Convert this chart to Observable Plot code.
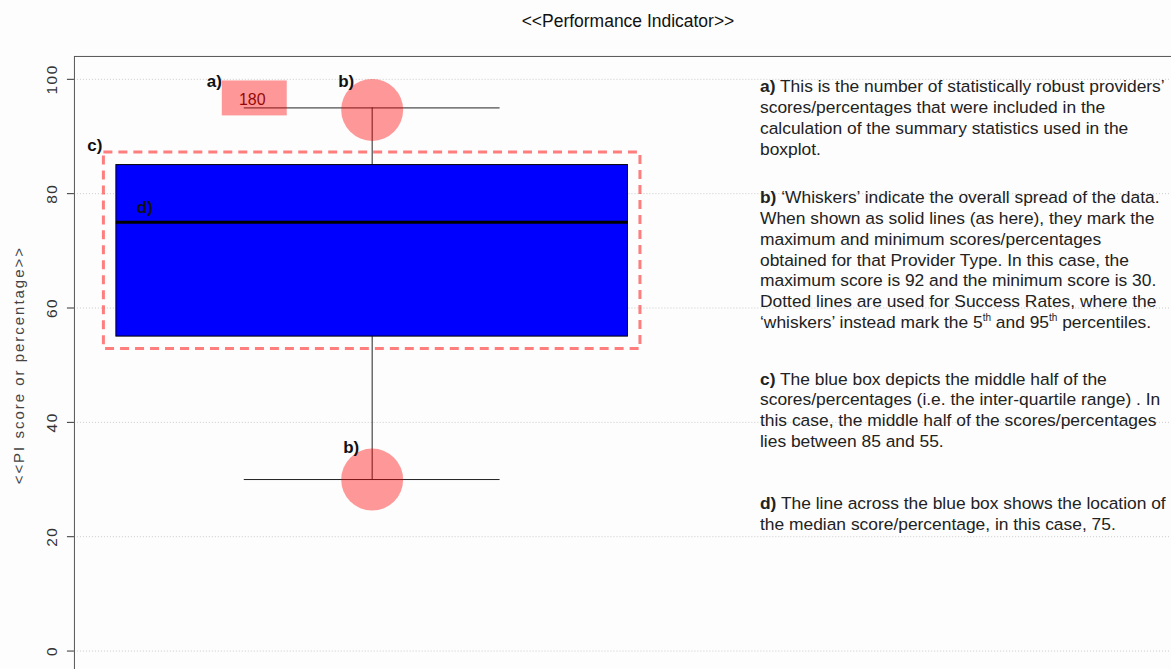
<!DOCTYPE html>
<html><head><meta charset="utf-8">
<script src="https://cdn.jsdelivr.net/npm/d3@7"></script>
<script src="https://cdn.jsdelivr.net/npm/@observablehq/plot@0.6"></script>
<style>
html,body{margin:0;padding:0;background:#fdfdfd;overflow:hidden;}
#wrap{position:relative;width:1171px;height:669px;overflow:hidden;}
#notes{position:absolute;left:760px;top:0;font-family:"Liberation Sans",Arial,sans-serif;font-size:17.4px;line-height:20.9px;color:#222;white-space:nowrap;}
#notes p{position:absolute;left:0;margin:0;}
#notes sup{font-size:10px;vertical-align:top;line-height:1;position:relative;top:1px;}
.ytitle text{letter-spacing:2px;}
.yticks text{letter-spacing:1.5px;}
</style></head>
<body><div id="wrap"><div id="chart"></div><div id="notes"></div></div>
<script>
// ---- data ----
const categories = ["Provider Type"];
const lowest = [30];
const lowerQuartile = [55];
const medians = [75];
const upperQuartile = [85];
const highest = [95];
const providerCounts = [180];
const yTicks = [0, 20, 40, 60, 80, 100];
const chartTitle = "<<Performance Indicator>>";
const yLabel = "<<PI score or percentage>>";
const noteA = ["<b>a)</b> This is the number of statistically robust providers’",
  "scores/percentages that were included in the",
  "calculation of the summary statistics used in the",
  "boxplot."];
const noteB = ["<b>b)</b> ‘Whiskers’ indicate the overall spread of the data.",
  "When shown as solid lines (as here), they mark the",
  "maximum and minimum scores/percentages",
  "obtained for that Provider Type. In this case, the",
  "maximum score is 92 and the minimum score is 30.",
  "Dotted lines are used for Success Rates, where the",
  "‘whiskers’ instead mark the 5<sup>th</sup> and 95<sup>th</sup> percentiles."];
const noteC = ["<b>c)</b> The blue box depicts the middle half of the",
  "scores/percentages (i.e. the inter-quartile range) . In",
  "this case, the middle half of the scores/percentages",
  "lies between 85 and 55."];
const noteD = ["<b>d)</b> The line across the blue box shows the location of",
  "the median score/percentage, in this case, 75."];

const stats = categories.map((c, i) => ({
  category: c, pos: i + 1,
  min: lowest[i], q1: lowerQuartile[i], median: medians[i],
  q3: upperQuartile[i], max: highest[i], n: providerCounts[i]
}));

const boxHalf = 0.4, whiskerHalf = 0.2;
const font = "'Liberation Sans', Arial, sans-serif";

const chart = Plot.plot({
  width: 1172, height: 674,
  marginLeft: 74, marginRight: 0, marginTop: 56, marginBottom: 0,
  style: {background: "#fdfdfd", fontFamily: font},
  x: {domain: [0.5344, 2.25], axis: null},
  y: {domain: [-4, 104], axis: null},
  marks: [
    Plot.gridY(yTicks, {stroke: "#999", strokeOpacity: 0.5, strokeDasharray: "1,2"}),
    Plot.frame({stroke: "#555"}),
    Plot.axisY(yTicks, {tickSize: 7, tickPadding: 10, tickRotate: -90, fontSize: 15.5, color: "#333", label: null, className: "yticks"}),
    Plot.text([yLabel], {text: d => d, frameAnchor: "left", textAnchor: "middle", dx: -55, rotate: -90, fontSize: 15, fill: "#444", className: "ytitle"}),
    Plot.text([chartTitle], {text: d => d, frameAnchor: "top", textAnchor: "middle", dx: 5, dy: -42, fontSize: 17.5, fill: "#111"}),
    // whiskers
    Plot.ruleX(stats, {x: "pos", y1: "min", y2: "q1", stroke: "#222"}),
    Plot.ruleX(stats, {x: "pos", y1: "q3", y2: "max", stroke: "#222"}),
    Plot.ruleY(stats, {y: "min", x1: d => d.pos - whiskerHalf, x2: d => d.pos + whiskerHalf, stroke: "#222"}),
    Plot.ruleY(stats, {y: "max", x1: d => d.pos - whiskerHalf, x2: d => d.pos + whiskerHalf, stroke: "#222"}),
    // box
    Plot.rect(stats, {x1: d => d.pos - boxHalf, x2: d => d.pos + boxHalf, y1: "q1", y2: "q3", fill: "#0000ff", stroke: "#000"}),
    Plot.ruleY(stats, {y: "median", x1: d => d.pos - boxHalf, x2: d => d.pos + boxHalf, stroke: "#000", strokeWidth: 3}),
    // highlight of the box
    Plot.rect(stats, {x1: d => d.pos - boxHalf, x2: d => d.pos + boxHalf, y1: "q1", y2: "q3", inset: -12.5, fill: "none", stroke: "#ff0000", strokeOpacity: 0.5, strokeWidth: 3, strokeDasharray: "9,6"}),
    // count label
    Plot.text(stats, {x: d => d.pos - whiskerHalf, y: "max", text: d => String(d.n), dx: 8, dy: -8, fontSize: 16, fill: "#4a1010"}),
    Plot.rect(stats, {x1: d => d.pos - whiskerHalf, x2: d => d.pos - whiskerHalf, y1: "max", y2: "max", insetLeft: -22, insetRight: -43, insetTop: -27, insetBottom: -8, fill: "#ff0000", fillOpacity: 0.4}),
    // whisker-end highlights
    Plot.dot(stats, {x: "pos", y: "max", r: 31, dy: 2, fill: "#ff0000", fillOpacity: 0.4, stroke: null}),
    Plot.dot(stats, {x: "pos", y: "min", r: 31, fill: "#ff0000", fillOpacity: 0.4, stroke: null}),
    // letter annotations
    Plot.text(stats, {x: d => d.pos - whiskerHalf, y: "max", text: () => "a)", dx: -30, dy: -26, fontSize: 17, fontWeight: "bold", fill: "#111"}),
    Plot.text(stats, {x: "pos", y: "max", text: () => "b)", dx: -26, dy: -26, fontSize: 17, fontWeight: "bold", fill: "#111"}),
    Plot.text(stats, {x: "pos", y: "min", text: () => "b)", dx: -21, dy: -32, fontSize: 17, fontWeight: "bold", fill: "#111"}),
    Plot.text(stats, {x: d => d.pos - boxHalf, y: "q3", text: () => "c)", dx: -21.5, dy: -20, fontSize: 17, fontWeight: "bold", fill: "#111"}),
    Plot.text(stats, {x: d => d.pos - boxHalf, y: "median", text: () => "d)", dx: 28.5, dy: -15, fontSize: 17, fontWeight: "bold", fill: "#111"})
  ]
});
document.getElementById("chart").append(chart);

const notesEl = document.getElementById("notes");
[[noteA, 75.8], [noteB, 186.8], [noteC, 368.5], [noteD, 492.8]].forEach(([lines, top]) => {
  const p = document.createElement("p");
  p.style.top = top + "px";
  p.innerHTML = lines.join("<br>");
  notesEl.append(p);
});
</script>
</body></html>
